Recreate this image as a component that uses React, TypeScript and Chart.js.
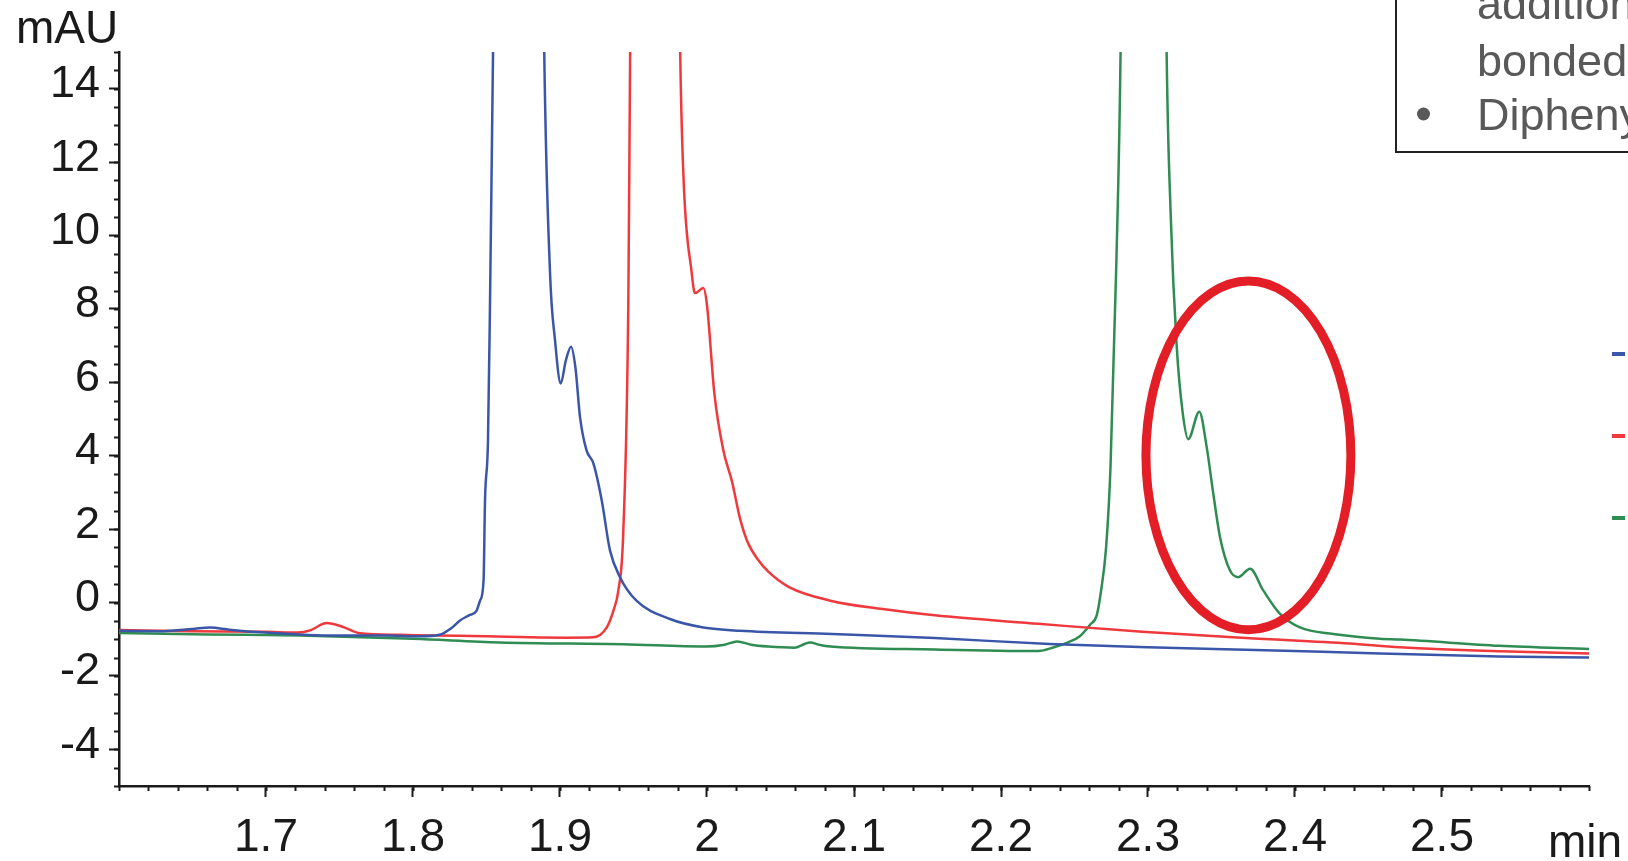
import { useEffect, useRef } from 'react';
import { Chart, registerables } from 'chart.js';

Chart.register(...registerables);

// ---------- data (retention time in min, signal in mAU) ----------
const blueTime = [1.600, 1.630, 1.650, 1.662, 1.675, 1.700, 1.746, 1.780, 1.805, 1.818, 1.826, 1.832, 1.838, 1.8433, 1.8456, 1.848, 1.849, 1.851, 1.8524, 1.8546, 1.872, 1.8891, 1.8932, 1.8966, 1.9005, 1.904, 1.9075, 1.9105, 1.9136, 1.918, 1.9227, 1.9284, 1.934, 1.9408, 1.952, 1.9748, 1.9975, 2.0224, 2.085, 2.155, 2.233, 2.300, 2.380, 2.458, 2.539, 2.600];
const blueSignal = [-0.77, -0.78, -0.72, -0.68, -0.74, -0.82, -0.90, -0.90, -0.92, -0.88, -0.70, -0.49, -0.35, -0.22, 0.05, 0.6, 2.8, 4.4, 8.2, 15.5, 90, 15.5, 9.0, 7.15, 5.97, 6.6, 6.97, 6.4, 5.06, 4.15, 3.79, 2.78, 1.42, 0.69, 0.05, -0.45, -0.68, -0.77, -0.86, -0.97, -1.13, -1.22, -1.30, -1.39, -1.47, -1.50];

const redTime = [1.600, 1.650, 1.700, 1.722, 1.730, 1.7413, 1.752, 1.764, 1.790, 1.814, 1.850, 1.880, 1.905, 1.9227, 1.9318, 1.9365, 1.9397, 1.943, 1.9465, 1.9478, 1.965, 1.9816, 1.9839, 1.9896, 1.9918, 1.9975, 2.0000, 2.005, 2.0111, 2.017, 2.0224, 2.0276, 2.035, 2.0417, 2.0558, 2.084, 2.1195, 2.1548, 2.2254, 2.296, 2.3667, 2.437, 2.4714, 2.539, 2.600];
const redSignal = [-0.75, -0.78, -0.80, -0.82, -0.76, -0.56, -0.66, -0.84, -0.88, -0.90, -0.92, -0.95, -0.96, -0.95, -0.68, -0.2, 0.33, 1.87, 8.25, 15.5, 90, 15.5, 11.7, 8.98, 8.43, 8.57, 8.1, 5.7, 4.15, 3.3, 2.3, 1.65, 1.15, 0.84, 0.42, 0.05, -0.18, -0.35, -0.58, -0.80, -0.97, -1.12, -1.22, -1.33, -1.39];

const greenTime = [1.600, 1.660, 1.723, 1.800, 1.859, 1.9429, 1.9993, 2.012, 2.0205, 2.030, 2.0418, 2.0594, 2.0665, 2.070, 2.077, 2.084, 2.1548, 2.2254, 2.236, 2.246, 2.2536, 2.2607, 2.2651, 2.268, 2.2715, 2.2745, 2.2785, 2.2815, 2.297, 2.3125, 2.3155, 2.3195, 2.3235, 2.3274, 2.3349, 2.3399, 2.3444, 2.349, 2.3558, 2.3614, 2.3694, 2.3784, 2.3898, 2.4034, 2.4261, 2.4578, 2.4714, 2.539, 2.600];
const greenSignal = [-0.83, -0.87, -0.90, -0.99, -1.09, -1.14, -1.20, -1.15, -1.06, -1.15, -1.20, -1.23, -1.13, -1.09, -1.16, -1.20, -1.28, -1.32, -1.22, -1.08, -0.92, -0.6, -0.35, 0.3, 1.5, 3.7, 9.3, 15.5, 90, 15.5, 10.5, 7.0, 5.2, 4.45, 5.2, 4.24, 2.97, 1.78, 0.87, 0.69, 0.92, 0.33, -0.31, -0.68, -0.86, -0.99, -1.01, -1.18, -1.27];

const xTickValues = [1.7, 1.8, 1.9, 2.0, 2.1, 2.2, 2.3, 2.4, 2.5];
const xTickLabels = ['1.7', '1.8', '1.9', '2', '2.1', '2.2', '2.3', '2.4', '2.5'];
const yTickValues = [-4, -2, 0, 2, 4, 6, 8, 10, 12, 14];
const yTickLabels = ['-4', '-2', '0', '2', '4', '6', '8', '10', '12', '14'];

const xRange = [1.6, 2.6];
const yRange = [-5, 15];
const xMinorStep = 0.02;
const yMinorStep = 0.5;

const xUnit = 'min';
const yUnit = 'mAU';

// highlighted region (ellipse centre and radii in data units)
const highlightCenter = [2.3683, 4.01];
const highlightRadius = [0.0697, 4.75];

// note box (cropped) at top right
const noteLines = ['addition', 'bonded', 'Dipheny'];
const noteBullets = [false, false, true];

const seriesColors = ['#3A56A8', '#F0393C', '#2F8C52'];

const FONT = '"Liberation Sans", Arial, Helvetica, sans-serif';
const INK = '#1a1a1a';

const decorPlugin = {
  id: 'decor',
  afterDatasetsDraw(chart: any) {
    const { ctx, scales } = chart;
    const x = scales.x;
    const y = scales.y;
    ctx.save();
    const cx = x.getPixelForValue(highlightCenter[0]);
    const cy = y.getPixelForValue(highlightCenter[1]);
    const rx = Math.abs(x.getPixelForValue(highlightCenter[0] + highlightRadius[0]) - cx);
    const ry = Math.abs(y.getPixelForValue(highlightCenter[1] + highlightRadius[1]) - cy);
    ctx.beginPath();
    ctx.ellipse(cx, cy, rx, ry, 0, 0, Math.PI * 2);
    ctx.strokeStyle = '#E41E26';
    ctx.lineWidth = 9;
    ctx.stroke();
    ctx.restore();
  },
  afterDraw(chart: any) {
    const { ctx, chartArea, scales } = chart;
    const x = scales.x;
    const y = scales.y;
    ctx.save();
    // minor ticks
    ctx.strokeStyle = INK;
    ctx.lineWidth = 2;
    const nx = Math.round((xRange[1] - xRange[0]) / xMinorStep);
    for (let i = 0; i <= nx; i++) {
      const px = Math.round(x.getPixelForValue(xRange[0] + i * xMinorStep)) + 0.5;
      ctx.beginPath();
      ctx.moveTo(px, chartArea.bottom);
      ctx.lineTo(px, chartArea.bottom + 5);
      ctx.stroke();
    }
    const ny = Math.round((yRange[1] - yRange[0]) / yMinorStep);
    for (let i = 0; i <= ny; i++) {
      const py = Math.round(y.getPixelForValue(yRange[0] + i * yMinorStep)) + 0.5;
      ctx.beginPath();
      ctx.moveTo(chartArea.left, py);
      ctx.lineTo(chartArea.left - 5, py);
      ctx.stroke();
    }
    // axis units
    ctx.fillStyle = INK;
    ctx.font = `46px ${FONT}`;
    ctx.textBaseline = 'alphabetic';
    ctx.textAlign = 'left';
    ctx.fillText(yUnit, 16, 43);
    ctx.fillText(xUnit, 1548, 857);

    // cropped note box
    ctx.strokeStyle = '#222';
    ctx.lineWidth = 2;
    ctx.strokeRect(1396, -10, 300, 162);
    ctx.fillStyle = '#595959';
    ctx.font = `45px ${FONT}`;
    const bases = [19, 76, 130];
    noteLines.forEach((line, i) => {
      const base = bases[i];
      ctx.fillText(line, 1477, base);
      if (noteBullets[i]) {
        ctx.beginPath();
        ctx.arc(1423.5, base - 16, 6.5, 0, Math.PI * 2);
        ctx.fill();
      }
    });

    // cropped legend markers
    chart.data.datasets.forEach((ds: any, i: number) => {
      ctx.fillStyle = ds.borderColor;
      ctx.fillRect(1612, 352 + i * 82, 13, 4);
    });
    ctx.restore();
  },
};

export default function App() {
  const ref = useRef<HTMLCanvasElement>(null);
  useEffect(() => {
    document.body.style.margin = '0';
    const toPoints = (t: number[], s: number[]) => t.map((v, i) => ({ x: v, y: s[i] }));
    const chart = new Chart(ref.current as HTMLCanvasElement, {
      type: 'line',
      data: {
        datasets: [
          { label: 'A', data: toPoints(blueTime, blueSignal), borderColor: seriesColors[0] },
          { label: 'B', data: toPoints(redTime, redSignal), borderColor: seriesColors[1] },
          { label: 'C', data: toPoints(greenTime, greenSignal), borderColor: seriesColors[2] },
        ].map((d) => ({
          ...d,
          borderWidth: 2.5,
          pointRadius: 0,
          fill: false,
          cubicInterpolationMode: 'monotone' as const,
        })),
      },
      options: {
        responsive: false,
        animation: false,
        events: [],
        layout: { padding: { left: 0, top: 52, right: 39, bottom: 0 } },
        plugins: { legend: { display: false }, tooltip: { enabled: false } },
        scales: {
          x: {
            type: 'linear',
            min: xRange[0],
            max: xRange[1],
            afterBuildTicks: (s: any) => {
              s.ticks = xTickValues.map((value) => ({ value }));
            },
            afterFit: (s: any) => {
              s.height = 75;
            },
            grid: { drawOnChartArea: false, drawTicks: true, tickLength: 11, tickWidth: 2, tickColor: INK },
            border: { display: true, color: INK, width: 2.5 },
            ticks: {
              autoSkip: false,
              maxRotation: 0,
              minRotation: 0,
              padding: 14,
              color: INK,
              font: { family: FONT, size: 46 },
              callback: (_v: any, i: number) => xTickLabels[i],
            },
          },
          y: {
            type: 'linear',
            min: yRange[0],
            max: yRange[1],
            afterBuildTicks: (s: any) => {
              s.ticks = yTickValues.map((value) => ({ value }));
            },
            afterFit: (s: any) => {
              s.width = 119;
            },
            grid: { drawOnChartArea: false, drawTicks: true, tickLength: 10, tickWidth: 2, tickColor: INK },
            border: { display: true, color: INK, width: 2.5 },
            ticks: {
              autoSkip: false,
              padding: 9,
              labelOffset: -4,
              color: INK,
              font: { family: FONT, size: 45 },
              callback: (_v: any, i: number) => yTickLabels[i],
            },
          },
        },
      },
      plugins: [decorPlugin],
    });
    return () => chart.destroy();
  }, []);
  return (
    <div style={{ width: 1628, height: 861, background: '#fff' }}>
      <canvas ref={ref} width={1628} height={861} style={{ display: 'block' }} />
    </div>
  );
}
